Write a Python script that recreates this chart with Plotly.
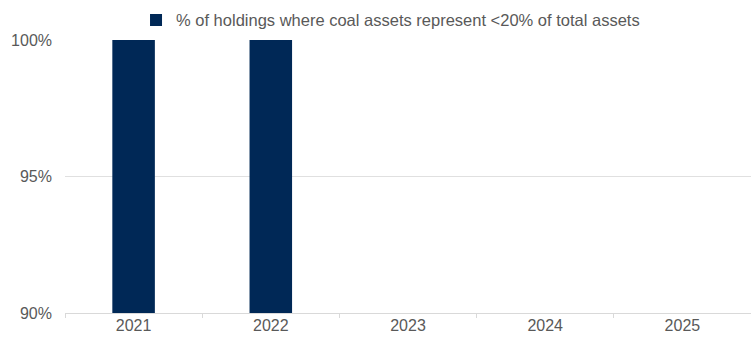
import plotly.graph_objects as go

years = ["2021", "2022", "2023", "2024", "2025"]
share_below_20 = [1.0, 1.0, None, None, None]
series_name = "% of holdings where coal assets represent <20% of total assets"

fig = go.Figure()
fig.add_trace(go.Bar(x=years, y=share_below_20, name=series_name,
                     marker_color="#002856", marker_line_width=0))

fig.update_layout(
    width=751, height=338,
    margin=dict(l=65, r=0, t=40, b=25, autoexpand=False),
    plot_bgcolor="white", paper_bgcolor="white",
    font=dict(family="Liberation Sans, Arial", size=16, color="#595959"),
    bargap=0.69,
    showlegend=True,
    legend=dict(orientation="h", x=0.52, xanchor="center", xref="container",
                y=0.94, yanchor="middle", yref="container",
                font=dict(size=16.5, color="#595959"), itemwidth=30),
)
fig.update_xaxes(type="category", categoryarray=years, tickson="boundaries",
                 ticks="outside", ticklen=4, tickcolor="#d9d9d9",
                 showline=True, linecolor="#d9d9d9", linewidth=1, showgrid=False,
                 ticklabelstandoff=-2, automargin=False)
fig.update_yaxes(range=[0.9, 1.0], dtick=0.05, tickformat=".0%",
                 showgrid=True, gridcolor="#e0e0e0", gridwidth=1,
                 showline=False, zeroline=False, ticklen=0, ticks="",
                 ticklabelstandoff=12, automargin=False)

# page body has an 8px default margin; drop it so the figure fills the window
fig.write_html("out.html", config={"displayModeBar": False},
               post_script="document.body.style.margin='0';")
